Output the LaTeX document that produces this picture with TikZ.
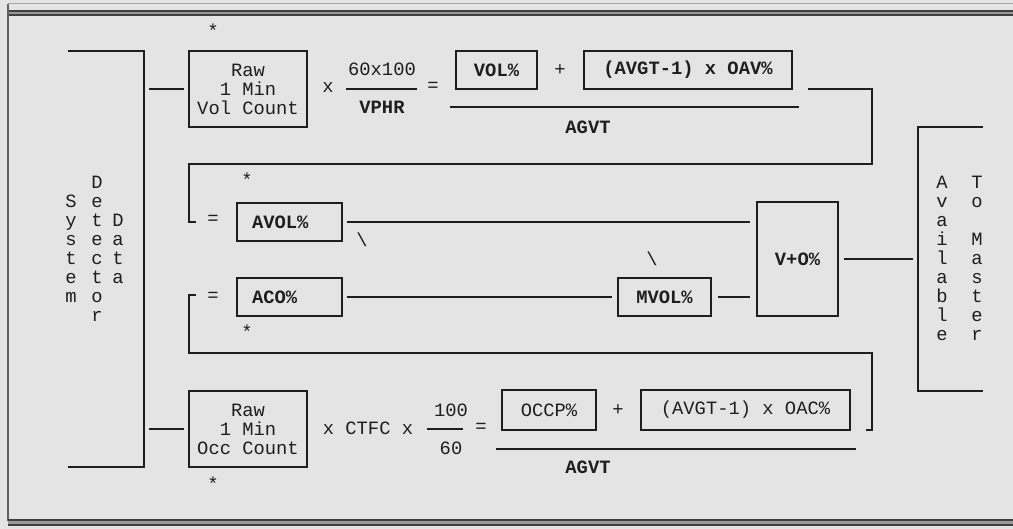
\documentclass[tikz,border=0pt]{standalone}
\usepackage{fontspec}
\newfontfamily\cour{Liberation Mono}
\definecolor{panel}{HTML}{E4E4E4}
\definecolor{ink}{HTML}{1E1E1E}
\tikzset{
  txt/.style={font=\cour\fontsize{18.8}{19}\selectfont, text=ink, inner sep=0pt},
  btxt/.style={txt, font=\cour\bfseries\fontsize{18.8}{19}\selectfont},
  box/.style={draw=ink, line width=1.8pt, inner sep=0pt, align=center},
  wire/.style={draw=ink, line width=1.8pt},
}

\begin{document}
\begin{tikzpicture}[x=1pt, y=-1pt]
  % frame
  \fill[panel] (0,0) rectangle (1013,529);
  \useasboundingbox (0,0) rectangle (1013,529);
  \draw[gray!70, line width=1pt] (8,4) -- (1013,4);
  \fill[gray!80] (8,11) rectangle (1013,15);
  \draw[ink!85, line width=1.2pt] (8,11) -- (1013,11);
  \draw[ink!85, line width=1.2pt] (8,15) -- (1013,15);
  \draw[ink!70, line width=1.2pt] (8,4) -- (8,521);
  \fill[gray!80] (8,520) rectangle (1013,525);
  \draw[ink!85, line width=1.2pt] (8,520) -- (1013,520);
  \draw[ink!85, line width=1.2pt] (8,525) -- (1013,525);

  % left input
  \foreach \c [count=\i from 0] in {S,y,s,t,e,m}
    \node[txt, anchor=base] (sys\i) at (71,208+19*\i) {\c};
  \foreach \c [count=\i from 0] in {D,e,t,e,c,t,o,r}
    \node[txt, anchor=base] (det\i) at (97,189+19*\i) {\c};
  \foreach \c [count=\i from 0] in {D,a,t,a}
    \node[txt, anchor=base] (dat\i) at (118,227+19*\i) {\c};
  \coordinate (lbrtop) at (144,51);
  \coordinate (lbrbot) at (144,467);
  \draw[wire] (68,51) -- (lbrtop) -- (lbrbot) -- (68,467);

  % volume row
  \node[box, txt, minimum width=118pt, minimum height=76pt] (rawvol) at (248,89) {Raw\\1 Min\\Vol Count};
  \node[txt] (starvol) at (213,31) {*};
  \draw[wire, shorten <=5pt, shorten >=4pt] (rawvol.west -| lbrtop) -- (rawvol.west);
  \node[txt] (xvol) at (328,88) {x};
  \node[txt] (numvol) at (382,69) {60x100};
  \node[btxt] (denvol) at (382,107) {VPHR};
  \draw[wire] (346,89) -- (417,89);
  \node[txt] (eqvol) at (433,87) {=};
  \node[box, btxt, minimum width=81pt, minimum height=38pt] (volp) at (496.5,70) {VOL\%};
  \node[txt] (plusvol) at (560,70) {+};
  \node[box, btxt, minimum width=208pt, minimum height=38pt] (oavp) at (688,70) {(AVGT-1) x OAV\%};
  \coordinate (barvolL) at (450,107);
  \coordinate (barvolR) at (799,107);
  \draw[wire] (barvolL) -- (barvolR);
  \node[btxt] (agvtvol) at (588,127) {AGVT};

  % averaged values
  \node[box, btxt, minimum width=105pt, minimum height=38pt, text width=75pt, align=left, inner xsep=15pt] (avol) at (289.5,222) {AVOL\%};
  \node[box, btxt, minimum width=105pt, minimum height=38pt, text width=75pt, align=left, inner xsep=15pt] (aco) at (289.5,297) {ACO\%};
  \node[txt] (eqavol) at (213,220) {=};
  \node[txt] (eqaco) at (213,297) {=};
  \node[txt] (staravol) at (247,180) {*};
  \node[txt] (staraco) at (247,332) {*};
  \node[box, btxt, minimum width=93pt, minimum height=38pt] (mvol) at (664.5,297) {MVOL\%};
  \node[box, btxt, minimum width=81pt, minimum height=114pt] (vo) at (797.5,259) {V+O\%};
  \node[txt] (bsavol) at (362,240) {\textbackslash};
  \node[txt] (bsmvol) at (652,259) {\textbackslash};
  \draw[wire, shorten <=4pt, shorten >=6pt] (avol.east) -- (avol.east -| vo.west);
  \draw[wire, shorten <=4pt, shorten >=5pt] (aco.east) -- (mvol.west);
  \draw[wire, shorten <=6pt, shorten >=6pt] (mvol.east) -- (mvol.east -| vo.west);

  % feedback brackets
  \draw[wire] (808,89) -- (872,89) -- (872,164) -- (189,164) -- (189,222) -- (196,222);
  \draw[wire] (196,295) -- (189,295) -- (189,353) -- (872,353) -- (872,430) -- (866,430);

  % occupancy row
  \node[box, txt, minimum width=118pt, minimum height=76pt] (rawocc) at (248,429) {Raw\\1 Min\\Occ Count};
  \node[txt] (starocc) at (213,484) {*};
  \draw[wire, shorten <=5pt, shorten >=4pt] (rawocc.west -| lbrbot) -- (rawocc.west);
  \node[txt] (ctfc) at (368,428) {x CTFC x};
  \node[txt] (numocc) at (451,410) {100};
  \node[txt] (denocc) at (451,448) {60};
  \draw[wire] (427,429) -- (463,429);
  \node[txt] (eqocc) at (481,428) {=};
  \node[box, txt, minimum width=94pt, minimum height=40pt] (occp) at (549,410) {OCCP\%};
  \node[txt] (plusocc) at (618,410) {+};
  \node[box, txt, minimum width=209pt, minimum height=40pt] (oacp) at (745.5,410) {(AVGT-1) x OAC\%};
  \draw[wire] (496,449) -- (856,449);
  \node[btxt] (agvtocc) at (588,467) {AGVT};

  % output
  \coordinate (rbrtop) at (918,127);
  \coordinate (rbrbot) at (918,391);
  \draw[wire] (983,127) -- (rbrtop) -- (rbrbot) -- (983,391);
  \draw[wire, shorten <=5pt, shorten >=5pt] (vo.east) -- (vo.east -| rbrtop);
  \foreach \c [count=\i from 0] in {A,v,a,i,l,a,b,l,e}
    \node[txt, anchor=base] (av\i) at (942,189+19*\i) {\c};
  \foreach \c [count=\i from 0] in {T,o,{},M,a,s,t,e,r}
    \node[txt, anchor=base] (tm\i) at (977,189+19*\i) {\c};
\end{tikzpicture}
\end{document}
